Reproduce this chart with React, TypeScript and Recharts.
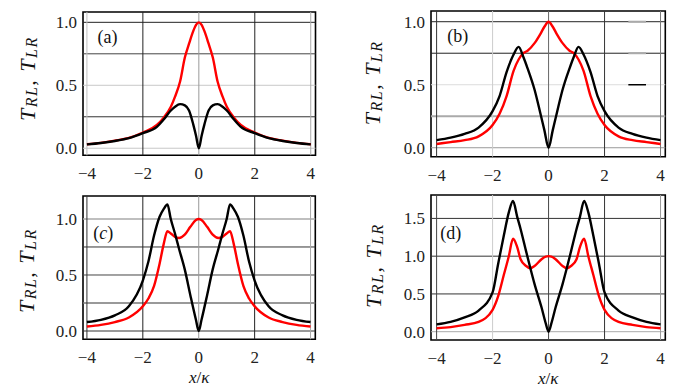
import React from 'react';
import { LineChart, Line, XAxis, YAxis, ReferenceLine, ReferenceArea } from 'recharts';

// ---------- data ----------
const xTicks = [-4, -2, 0, 2, 4];
const yTicksA = [0, 0.5, 1.0];
const yTicksB = [0, 0.5, 1.0];
const yTicksC = [0, 0.5, 1.0];
const yTicksD = [0, 0.5, 1.0, 1.5];

// panel (a)
const xA = [-4, -3.5, -3, -2.5, -2, -1.5, -1.25, -1, -0.85, -0.67, -0.5, -0.35, -0.2, -0.1, 0,
  0.1, 0.2, 0.35, 0.5, 0.67, 0.85, 1, 1.25, 1.5, 2, 2.5, 3, 3.5, 4];
const redA = [0.032, 0.043, 0.06, 0.082, 0.125, 0.185, 0.245, 0.33, 0.41, 0.53, 0.72, 0.83, 0.93, 0.98, 1.0,
  0.98, 0.93, 0.83, 0.72, 0.53, 0.41, 0.33, 0.245, 0.185, 0.125, 0.082, 0.06, 0.043, 0.032];
const blackA = [0.031, 0.042, 0.058, 0.08, 0.12, 0.17, 0.23, 0.3, 0.33, 0.35, 0.34, 0.3, 0.19, 0.1, 0.0,
  0.1, 0.19, 0.3, 0.34, 0.35, 0.33, 0.3, 0.23, 0.17, 0.12, 0.08, 0.058, 0.042, 0.031];

// panel (b)
const xB = [-4, -3.5, -3, -2.5, -2, -1.75, -1.5, -1.25, -1.07, -0.9, -0.75, -0.5, -0.3, -0.15, 0,
  0.15, 0.3, 0.5, 0.75, 0.9, 1.07, 1.25, 1.5, 1.75, 2, 2.5, 3, 3.5, 4];
const redB = [0.03, 0.045, 0.06, 0.09, 0.18, 0.27, 0.41, 0.61, 0.7, 0.75, 0.77, 0.83, 0.9, 0.96, 1.0,
  0.96, 0.9, 0.83, 0.77, 0.75, 0.7, 0.61, 0.41, 0.27, 0.18, 0.09, 0.06, 0.045, 0.03];
const blackB = [0.06, 0.08, 0.11, 0.16, 0.29, 0.41, 0.6, 0.74, 0.8, 0.72, 0.63, 0.46, 0.28, 0.14, 0.0,
  0.14, 0.28, 0.46, 0.63, 0.72, 0.8, 0.74, 0.6, 0.41, 0.29, 0.16, 0.11, 0.08, 0.06];

// panel (c)
const xC = [-4, -3.5, -3, -2.5, -2, -1.8, -1.6, -1.4, -1.25, -1.12, -1, -0.85, -0.7, -0.5, -0.3, -0.1, 0,
  0.1, 0.3, 0.5, 0.7, 0.85, 1, 1.12, 1.25, 1.4, 1.6, 1.8, 2, 2.5, 3, 3.5, 4];
const redC = [0.04, 0.055, 0.08, 0.12, 0.22, 0.29, 0.4, 0.6, 0.78, 0.89, 0.87, 0.84, 0.83, 0.86, 0.93, 0.99, 1.0,
  0.99, 0.93, 0.86, 0.83, 0.84, 0.87, 0.89, 0.78, 0.6, 0.4, 0.29, 0.22, 0.12, 0.08, 0.055, 0.04];
const blackC = [0.08, 0.1, 0.14, 0.22, 0.45, 0.62, 0.85, 1.02, 1.09, 1.13, 1.0, 0.87, 0.73, 0.55, 0.32, 0.1, 0.0,
  0.1, 0.32, 0.55, 0.73, 0.87, 1.0, 1.13, 1.09, 1.02, 0.85, 0.62, 0.45, 0.22, 0.14, 0.1, 0.08];

// panel (d)
const xD = [-4, -3.5, -3, -2.5, -2, -1.8, -1.6, -1.42, -1.27, -1.12, -1, -0.8, -0.65, -0.5, -0.25, -0.1, 0,
  0.1, 0.25, 0.5, 0.65, 0.8, 1, 1.12, 1.27, 1.42, 1.6, 1.8, 2, 2.5, 3, 3.5, 4];
const redD = [0.045, 0.06, 0.09, 0.13, 0.29, 0.47, 0.75, 1.0, 1.23, 1.12, 0.96, 0.87, 0.84, 0.87, 0.96, 0.995, 1.0,
  0.995, 0.96, 0.87, 0.84, 0.87, 0.96, 1.12, 1.23, 1.0, 0.75, 0.47, 0.29, 0.13, 0.09, 0.06, 0.045];
const blackD = [0.096, 0.13, 0.19, 0.28, 0.52, 0.9, 1.27, 1.58, 1.73, 1.52, 1.36, 1.06, 0.84, 0.63, 0.32, 0.11, 0.0,
  0.11, 0.32, 0.63, 0.84, 1.06, 1.36, 1.52, 1.73, 1.58, 1.27, 0.9, 0.52, 0.28, 0.19, 0.13, 0.096];

const build = (xs: number[], red: number[], black: number[]) =>
  xs.map((x, i) => ({ x, red: red[i], black: black[i] }));

// ---------- styling / layout ----------
const FONT = "'Liberation Serif', 'DejaVu Serif', serif";
const ML = 80, MT = 8, MR = 8, MB = 50;

type Grid = [number, string, number?][];

const panels = [
  {
    key: 'a', letter: '(a)', italicLetter: false, data: build(xA, redA, blackA),
    box: { left: 82.5, top: 11.7, w: 232.5, h: 143.3 },
    xDomain: [-4.14, 4.17], yDomain: [-0.056, 1.082], yTicks: yTicksA,
    letterPos: { dx: 14.5, dy: 31.5 }, yLabDx: 55.5, yLabDy: -5, xLabel: false,
    gridH: [[1, '#222'], [0.75, '#444'], [0.5, '#c8c8c8'], [0.25, '#333'], [0, '#c8c8c8']] as Grid,
    gridV: [[-4, '#c0c0c0'], [-2, '#222'], [0, '#999'], [2, '#222'], [4, '#aaa']] as Grid,
    extra: [] as { y: number; x1: number; x2: number; c: string; w: number }[],
  },
  {
    key: 'b', letter: '(b)', italicLetter: false, data: build(xB, redB, blackB),
    box: { left: 430.7, top: 11, w: 234.3, h: 145.7 },
    xDomain: [-4.2, 4.17], yDomain: [-0.071, 1.085], yTicks: yTicksB,
    letterPos: { dx: 16.3, dy: 31 }, yLabDx: 59, yLabDy: -1, xLabel: false,
    gridH: [[1, '#222'], [0.75, '#222'], [0.5, '#ddd'], [0.25, '#aaa', 2], [0, '#999']] as Grid,
    gridV: [[-4, '#333'], [-2, '#ccc'], [0, '#666'], [2, '#333'], [4, '#777']] as Grid,
    extra: [
      { y: 1.0, x1: 2.85, x2: 3.48, c: '#aaa', w: 2 },
      { y: 0.75, x1: 2.85, x2: 3.48, c: '#aaa', w: 2 },
      { y: 0.5, x1: 2.85, x2: 3.48, c: '#000', w: 1.5 },
    ],
  },
  {
    key: 'c', letter: '(c)', italicLetter: true, data: build(xC, redC, blackC),
    box: { left: 82.7, top: 196, w: 232.3, h: 143.3 },
    xDomain: [-4.14, 4.17], yDomain: [-0.074, 1.205], yTicks: yTicksC,
    letterPos: { dx: 10.3, dy: 43 }, yLabDx: 57, yLabDy: 3, xLabel: true,
    gridH: [[1, '#aaa', 1.5], [0.75, '#333'], [0.5, '#444'], [0.25, '#777', 1.5], [0, '#333']] as Grid,
    gridV: [[-4, '#333'], [-2, '#222'], [0, '#999'], [2, '#222'], [4, '#aaa']] as Grid,
    extra: [],
  },
  {
    key: 'd', letter: '(d)', italicLetter: false, data: build(xD, redD, blackD),
    box: { left: 430.7, top: 195, w: 234.3, h: 145 },
    xDomain: [-4.2, 4.17], yDomain: [-0.11, 1.81], yTicks: yTicksD,
    letterPos: { dx: 9.3, dy: 44 }, yLabDx: 57.5, yLabDy: -2, xLabel: true,
    gridH: [[1.5, '#333'], [1, '#333'], [0.5, '#333'], [0, '#aaa']] as Grid,
    gridV: [[-4, '#444'], [-2, '#ccc'], [0, '#444'], [2, '#333'], [4, '#999']] as Grid,
    extra: [],
  },
];

const fmtX = (v: number) => (v < 0 ? '\u2212' + Math.abs(v) : String(v));
const fmtY = (v: number) => v.toFixed(1);

const XTick = (props: any) => {
  const { x, y, payload } = props;
  return (
    <text x={x} y={y} dy="0.71em" textAnchor="middle" fontFamily={FONT} fontSize={17} fill="#222">
      {fmtX(payload.value)}
    </text>
  );
};

const YTick = (props: any) => {
  const { x, y, payload } = props;
  return (
    <text x={x} y={y} dy="0.355em" textAnchor="end" fontFamily={FONT} fontSize={17} fill="#222">
      {fmtY(payload.value)}
    </text>
  );
};

const YLabel = (props: any) => {
  const { viewBox, dx, dy } = props;
  const vb = viewBox || { x: 0, y: 0, width: ML, height: 100 };
  const cx = vb.x + vb.width - dx;
  const cy = vb.y + vb.height / 2 + dy;
  return (
    <text
      x={cx}
      y={cy}
      transform={`rotate(-90 ${cx} ${cy})`}
      textAnchor="middle"
      dominantBaseline="central"
      fontFamily={FONT}
      fontSize={22}
      fontStyle="italic"
      fill="#111"
      letterSpacing={1.5}
    >
      <tspan>T</tspan>
      <tspan fontSize={16} dy={4}>RL</tspan>
      <tspan dy={-4} fontStyle="normal">, </tspan>
      <tspan>T</tspan>
      <tspan fontSize={16} dy={4}>LR</tspan>
    </text>
  );
};

const XLabel = (props: any) => {
  const { viewBox } = props;
  const vb = viewBox || { x: 0, y: 0, width: 100, height: MB };
  const cx = vb.x + vb.width / 2;
  const cy = vb.y + 44;
  return (
    <text x={cx} y={cy} textAnchor="middle" fontFamily={FONT} fontSize={17} fill="#111">
      <tspan fontStyle="italic">x</tspan>
      <tspan>/</tspan>
      <tspan fontStyle="italic">κ</tspan>
    </text>
  );
};

const Letter = (props: any) => {
  const { viewBox, text, dx, dy, italic } = props;
  const vb = viewBox || { x: 0, y: 0 };
  const inner = text.slice(1, -1);
  return (
    <text x={vb.x + dx} y={vb.y + dy} fontFamily={FONT} fontSize={18} fill="#111">
      <tspan>(</tspan>
      <tspan fontStyle={italic ? 'italic' : 'normal'}>{inner}</tspan>
      <tspan>)</tspan>
    </text>
  );
};

const Panel = ({ p }: { p: (typeof panels)[number] }) => {
  const W = p.box.w + ML + MR;
  const H = p.box.h + MT + MB;
  return (
    <div style={{ position: 'absolute', left: p.box.left - ML, top: p.box.top - MT, width: W, height: H, fontFamily: FONT }}>
      <LineChart width={W} height={H} data={p.data} margin={{ top: MT, right: MR, left: 0, bottom: 0 }} style={{ fontFamily: FONT }}>
        <XAxis
          type="number"
          dataKey="x"
          domain={p.xDomain}
          ticks={xTicks}
          allowDataOverflow
          axisLine={false}
          tickLine={false}
          tickSize={6}
          tickMargin={6}
          height={MB}
          tick={<XTick />}
          label={p.xLabel ? <XLabel /> : undefined}
        />
        <YAxis
          type="number"
          domain={p.yDomain}
          ticks={p.yTicks}
          allowDataOverflow
          axisLine={false}
          tickLine={false}
          tickSize={4}
          tickMargin={2}
          width={ML}
          tick={<YTick />}
          label={<YLabel dx={p.yLabDx} dy={p.yLabDy} />}
        />
        {p.gridH.map(([v, c, w]) => (
          <ReferenceLine key={'h' + v} y={v} stroke={c} strokeWidth={w ?? 1} />
        ))}
        {p.gridV.map(([v, c, w]) => (
          <ReferenceLine key={'v' + v} x={v} stroke={c} strokeWidth={w ?? 1} />
        ))}
        {p.extra.map((e, i) => (
          <ReferenceLine
            key={'e' + i}
            segment={[{ x: e.x1, y: e.y }, { x: e.x2, y: e.y }]}
            stroke={e.c}
            strokeWidth={e.w}
          />
        ))}
        <Line type="monotone" dataKey="red" stroke="#ff0000" strokeWidth={2.4} dot={false} isAnimationActive={false} />
        <Line type="monotone" dataKey="black" stroke="#000000" strokeWidth={2.4} dot={false} isAnimationActive={false} />
        <ReferenceArea
          x1={p.xDomain[0]}
          x2={p.xDomain[1]}
          y1={p.yDomain[0]}
          y2={p.yDomain[1]}
          fill="none"
          fillOpacity={0}
          stroke="#000"
          strokeWidth={1.6}
          label={<Letter text={p.letter} dx={p.letterPos.dx} dy={p.letterPos.dy} italic={p.italicLetter} />}
        />
      </LineChart>
    </div>
  );
};

export default function App() {
  return (
    <div style={{ position: 'absolute', left: 0, top: 0, width: 700, height: 391, background: '#fff', overflow: 'hidden' }}>
      {panels.map((p) => (
        <Panel key={p.key} p={p} />
      ))}
    </div>
  );
}
